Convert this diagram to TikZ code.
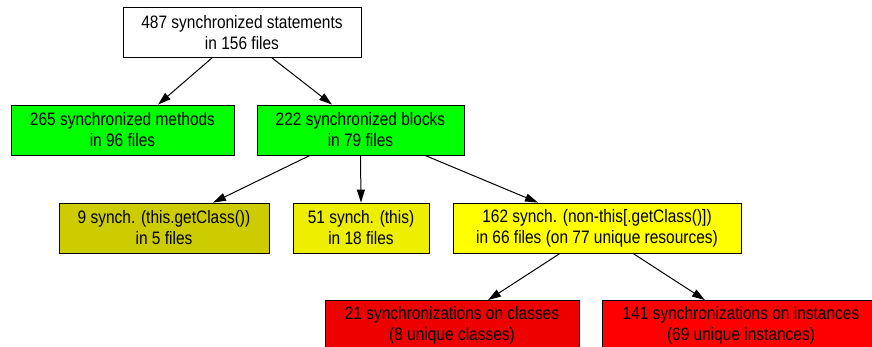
\documentclass[tikz,border=0pt]{standalone}
\usepackage{fontspec}
\setmainfont[FakeStretch=0.86]{Liberation Sans}
\usetikzlibrary{arrows.meta}

\definecolor{boxgreen}{RGB}{0,255,0}
\definecolor{boxolive}{RGB}{204,204,0}
\definecolor{boxyellowdark}{RGB}{238,238,0}
\definecolor{boxyellow}{RGB}{255,255,0}
\definecolor{boxreddark}{RGB}{238,0,0}
\definecolor{boxred}{RGB}{255,0,0}

\begin{document}
\begin{tikzpicture}[x=1pt, y=-1pt, line width=0.8pt,
    % --- styles ---
    stat_box/.style={rectangle, draw=black, inner sep=0pt, align=center,
        minimum height=50pt, font=\fontsize{18}{21}\selectfont},
    edge_arrow/.style={-{Triangle[length=13pt, width=8pt]}, line width=1pt}
]
    \useasboundingbox (0,0) rectangle (872,347);

    % =========================================
    % level 0 / level 1
    % =========================================
    \node[stat_box, fill=white, minimum width=238pt] (total) at (242,32.5)
        {487 synchronized statements\\ in 156 files};
    \node[stat_box, fill=boxgreen, minimum width=223pt] (methods) at (122.5,130)
        {265 synchronized methods\\ in 96 files};
    \node[stat_box, fill=boxgreen, minimum width=207pt] (blocks) at (360.5,130)
        {222 synchronized blocks\\ in 79 files};

    % =========================================
    % level 2: kinds of blocks
    % =========================================
    \node[stat_box, fill=boxolive, minimum width=210pt] (getclass) at (164,228)
        {9 synch. (this.getClass())\\ in 5 files};
    \node[stat_box, fill=boxyellowdark, minimum width=136pt] (this) at (361,228)
        {51 synch. (this)\\ in 18 files};
    \node[stat_box, fill=boxyellow, minimum width=288pt] (nonthis) at (597,228)
        {162 synch. (non-this[.getClass()])\\ in 66 files (on 77 unique resources)};

    % =========================================
    % level 3: resources
    % =========================================
    \node[stat_box, fill=boxreddark, minimum width=254pt] (classes) at (452,325.5)
        {21 synchronizations on classes\\ (8 unique classes)};
    \node[stat_box, fill=boxred, minimum width=278pt] (instances) at (741,325.5)
        {141 synchronizations on instances\\ (69 unique instances)};

    % --- arrows ---
    \draw[edge_arrow] ([xshift=-30pt]total.south) -- ([xshift=35.5pt]methods.north);
    \draw[edge_arrow] ([xshift=30pt]total.south) -- ([xshift=-28.5pt]blocks.north);

    \draw[edge_arrow] ([xshift=-50.5pt]blocks.south) -- ([xshift=49pt]getclass.north);
    \draw[edge_arrow] (blocks.south) -- (this.north);
    \draw[edge_arrow] ([xshift=64.5pt]blocks.south) -- ([xshift=-59pt]nonthis.north);

    \draw[edge_arrow] ([xshift=-37pt]nonthis.south) -- ([xshift=36pt]classes.north);
    \draw[edge_arrow] ([xshift=36pt]nonthis.south) -- ([xshift=-36pt]instances.north);

\end{tikzpicture}
\end{document}
